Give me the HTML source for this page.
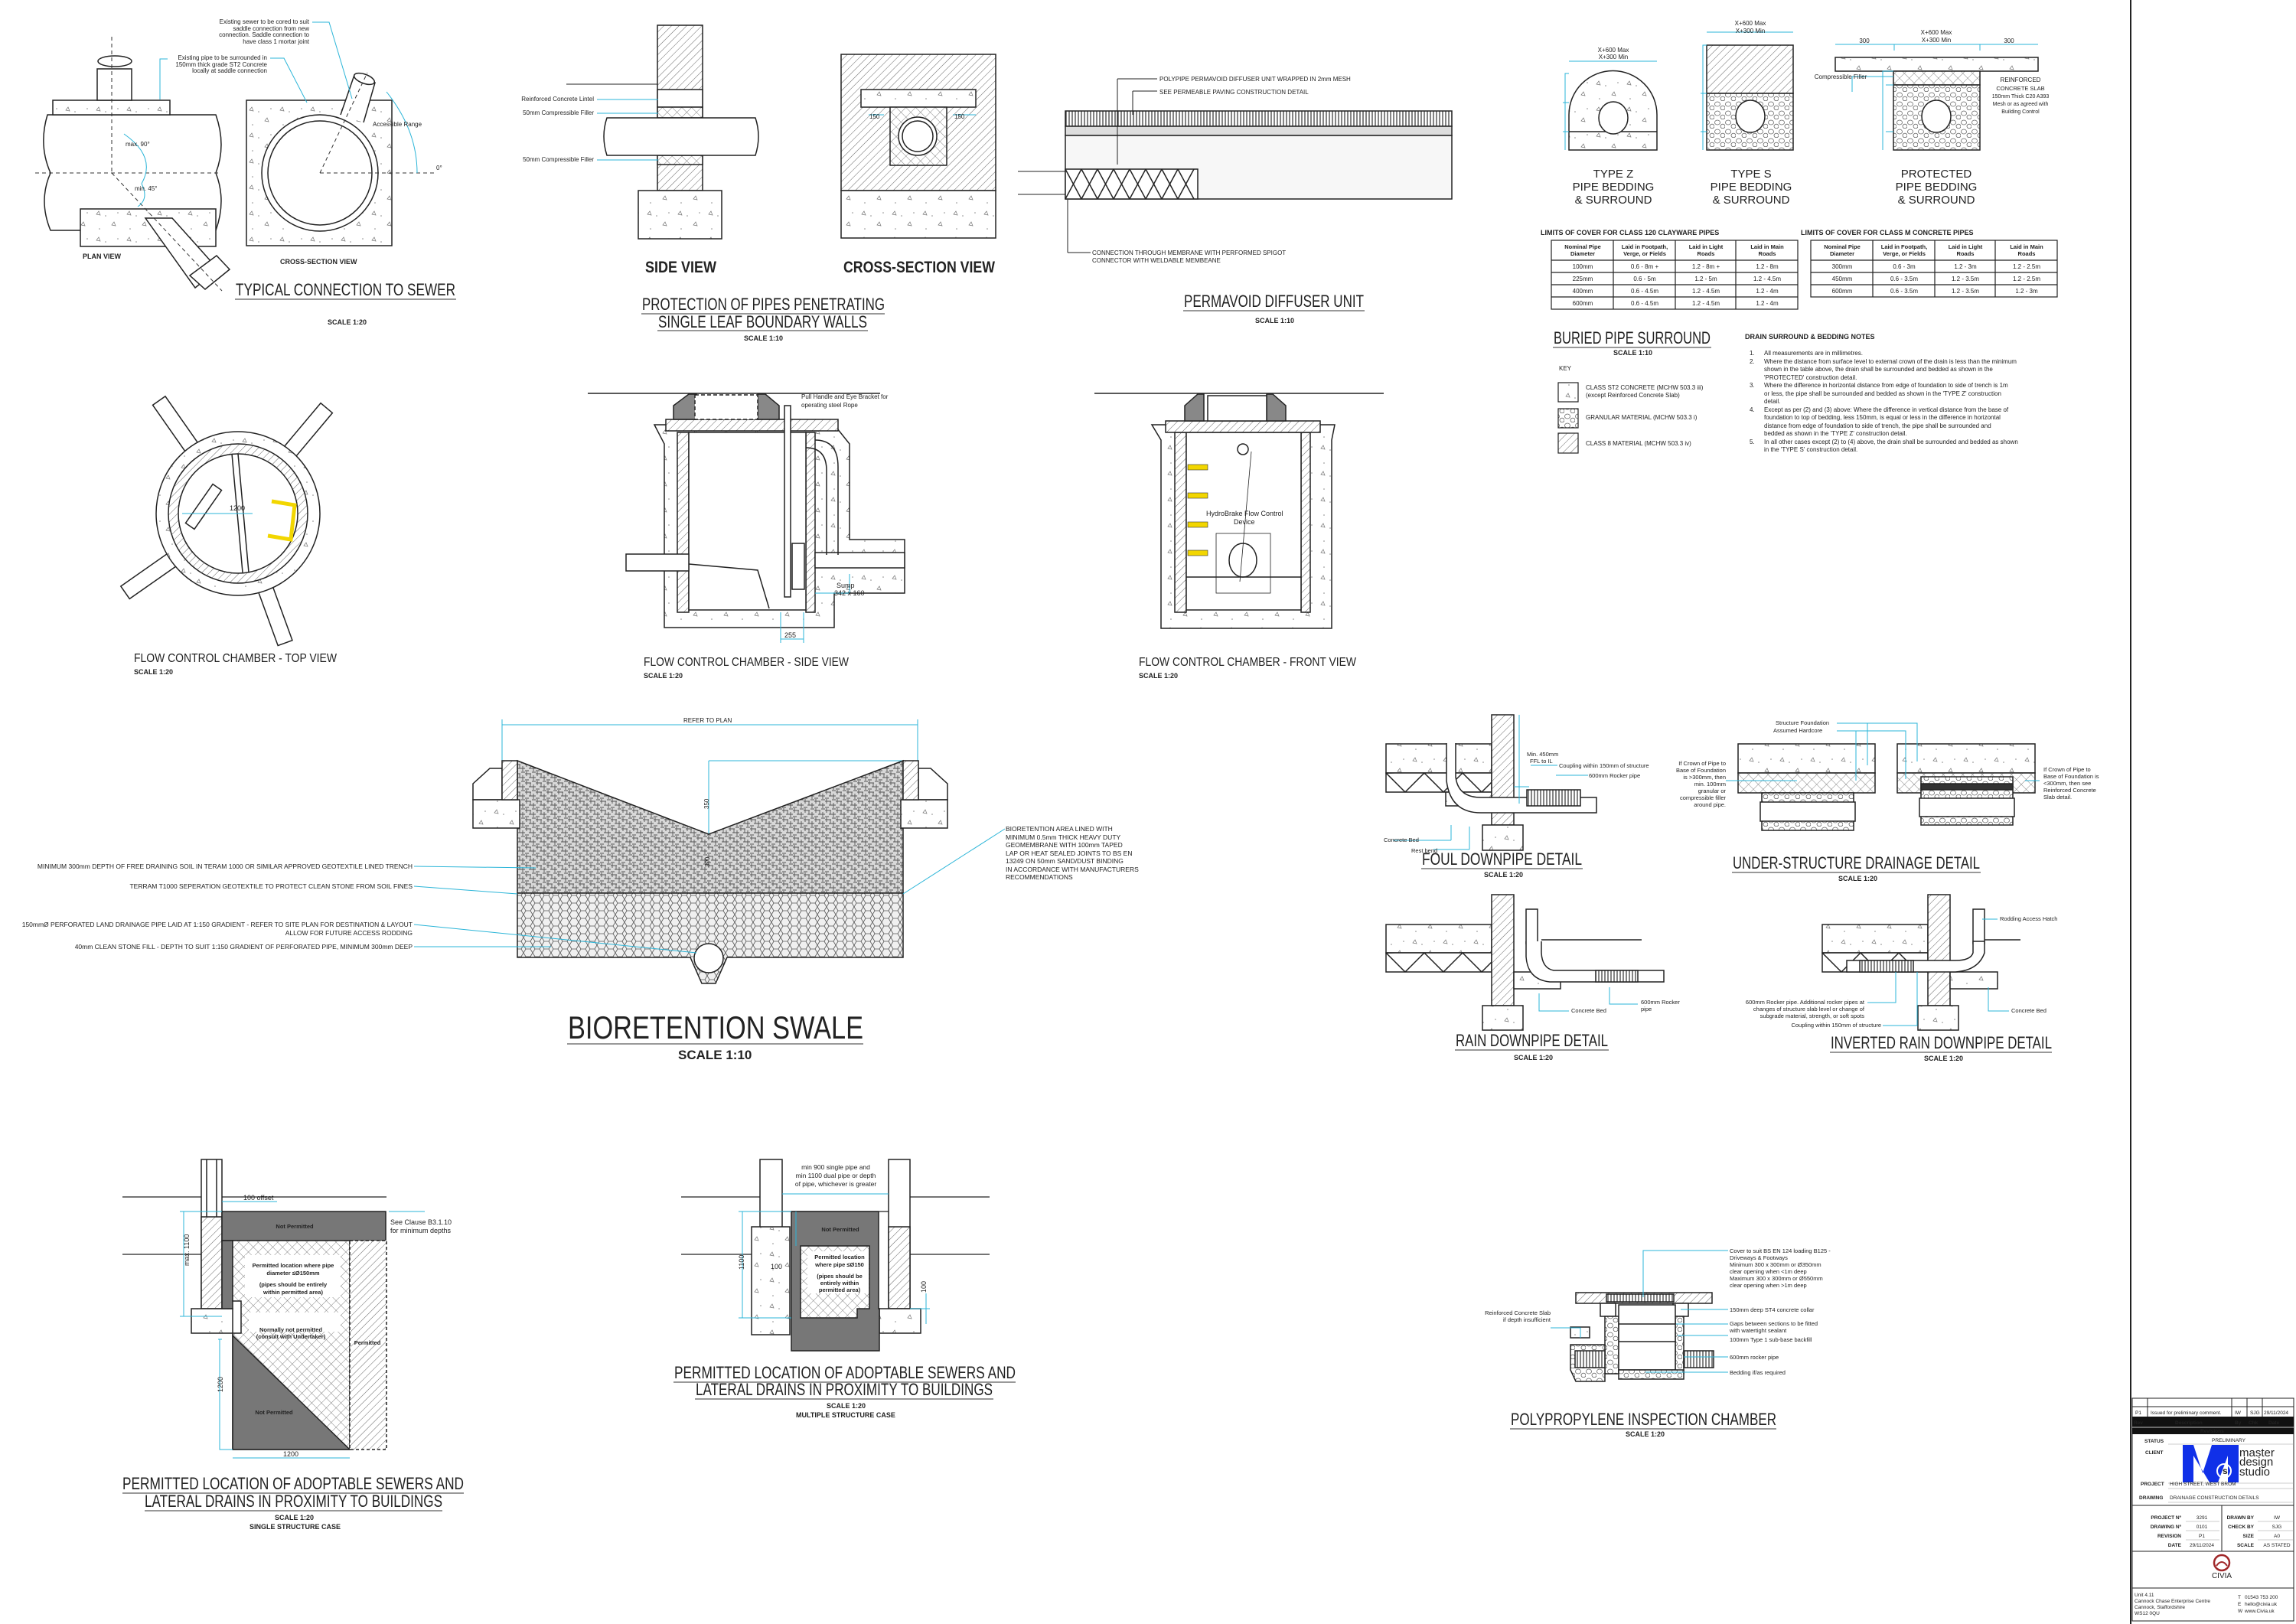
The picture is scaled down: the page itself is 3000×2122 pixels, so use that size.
<!DOCTYPE html>
<html><head><meta charset="utf-8"><style>
html,body{margin:0;padding:0;background:#fff}
svg{display:block}
text{font-family:"Liberation Sans",sans-serif;fill:#222}
.t{font-size:22px}
.s{font-size:9px;font-weight:bold}
.n{font-size:8px}
.c{stroke:#2bb5d8;fill:none;stroke-width:1}
.k{stroke:#222;fill:none;stroke-width:1.5}
</style></head><body>
<svg width="3000" height="2122" viewBox="0 0 3000 2122" xmlns="http://www.w3.org/2000/svg">
<defs>
<pattern id="dg" width="7" height="7" patternUnits="userSpaceOnUse" patternTransform="rotate(45)"><rect width="7" height="7" fill="#fff"/><line x1="0" y1="0" x2="0" y2="7" stroke="#555" stroke-width="0.9"/></pattern>
<pattern id="xh" width="9" height="9" patternUnits="userSpaceOnUse" patternTransform="rotate(45)"><rect width="9" height="9" fill="#fff"/><line x1="0" y1="0" x2="0" y2="9" stroke="#666" stroke-width="0.8"/><line x1="0" y1="0" x2="9" y2="0" stroke="#666" stroke-width="0.8"/></pattern>
<pattern id="hx" width="12" height="10" patternUnits="userSpaceOnUse"><rect width="12" height="10" fill="#f0f0f0"/><path d="M0 5 L3 0 L9 0 L12 5 L9 10 L3 10 Z" fill="none" stroke="#555" stroke-width="0.8"/></pattern>
<pattern id="cc" width="40" height="34" patternUnits="userSpaceOnUse"><rect width="40" height="34" fill="#fff"/><path d="M6 8 l3 -4 l2 5z M26 22 l3 -4 l2 5z" fill="none" stroke="#777" stroke-width="0.7"/><circle cx="18" cy="10" r="0.8" fill="#888"/><circle cx="34" cy="6" r="0.8" fill="#888"/><circle cx="10" cy="27" r="0.8" fill="#888"/></pattern>
<pattern id="soil" width="14" height="12" patternUnits="userSpaceOnUse"><rect width="14" height="12" fill="#d8d8d8"/><path d="M0 3h8M5 8h9M2 0v6M11 5v7M7 3v5M0 11h5M9 1h5" stroke="#555" stroke-width="0.9"/></pattern>
<pattern id="gr" width="14" height="12" patternUnits="userSpaceOnUse"><rect width="14" height="12" fill="#fff"/><ellipse cx="4" cy="4" rx="3.5" ry="3" fill="none" stroke="#666" stroke-width="0.8"/><ellipse cx="11" cy="9" rx="3" ry="2.8" fill="none" stroke="#666" stroke-width="0.8"/></pattern>
<pattern id="vl" width="4" height="10" patternUnits="userSpaceOnUse"><rect width="4" height="10" fill="#fff"/><line x1="1" y1="0" x2="1" y2="10" stroke="#333" stroke-width="1.2"/></pattern>
</defs>

<!-- ============ TYPICAL CONNECTION TO SEWER ============ -->
<g class="k">
<path d="M62 150 Q50 190 66 226 Q50 262 66 301 L282 301 Q296 262 282 226 Q296 190 282 150 Z" fill="#fff"/>
<rect x="69" y="131" width="153" height="19" fill="url(#cc)"/>
<rect x="127" y="90" width="45" height="41" fill="#fff"/>
<ellipse cx="150" cy="80" rx="22" ry="7" fill="#fff"/>
<rect x="105" y="273" width="177" height="49" fill="url(#cc)"/>
<path d="M190 285 L225 285 L285 352 L255 376 Z" fill="#fff"/>
<path d="M248 360 L283 334 L300 352 L268 378 Z" fill="#fff"/>
<rect x="322" y="131" width="190" height="190" fill="url(#cc)"/>
<circle cx="418" cy="226" r="76" fill="#fff"/>
<circle cx="418" cy="226" r="68"/>
<path d="M445 150 L463 98 L490 108 L475 160" fill="#fff"/>
<ellipse cx="476" cy="103" rx="14" ry="6" transform="rotate(20 476 103)" fill="#fff"/>
</g>
<g stroke="#333" stroke-dasharray="5 4" stroke-width="1" fill="none">
<line x1="46" y1="226" x2="285" y2="226"/><line x1="146" y1="48" x2="146" y2="226"/><line x1="146" y1="226" x2="290" y2="380"/>
<line x1="418" y1="226" x2="570" y2="226"/><line x1="418" y1="226" x2="480" y2="95"/>
</g>
<path class="c" d="M162 175 Q205 205 185 240 M185 240 Q195 260 180 270 M505 120 Q545 170 545 226"/>
<g class="n" text-anchor="end"><text x="404" y="31">Existing sewer to be cored to suit</text><text x="404" y="40">saddle connection from new</text><text x="404" y="48">connection. Saddle connection to</text><text x="404" y="57">have class 1 mortar joint</text>
<text x="349" y="78">Existing pipe to be surrounded in</text><text x="349" y="87">150mm thick grade ST2 Concrete</text><text x="349" y="95">locally at saddle connection</text></g>
<path class="c" d="M408 29h22l30 100 M353 76h18l30 58 M209 130v-53h10"/>
<text x="164" y="191" class="n" font-size="10">max. 90°</text><text x="176" y="249" class="n" font-size="10">min. 45°</text>
<text x="487" y="165" class="n" font-size="10">Accessible Range</text><text x="570" y="222" class="n" font-size="10">0°</text>
<text x="108" y="338" class="s">PLAN VIEW</text><text x="366" y="345" class="s">CROSS-SECTION VIEW</text>
<text x="308" y="386" class="t" textLength="287" lengthAdjust="spacingAndGlyphs">TYPICAL CONNECTION TO SEWER</text>
<line x1="307" y1="391" x2="596" y2="391" stroke="#333"/>
<text x="428" y="424" class="s">SCALE 1:20</text>

<!-- ============ PROTECTION OF PIPES ============ -->
<g class="k">
<rect x="859" y="33" width="59" height="216" fill="url(#dg)"/>
<rect x="859" y="117" width="59" height="23" fill="#fff"/>
<rect x="859" y="140" width="59" height="14" fill="url(#xh)"/>
<rect x="859" y="203" width="59" height="12" fill="url(#xh)"/>
<rect x="834" y="249" width="109" height="63" fill="url(#cc)"/>
<path d="M793 154 H987 Q995 178 987 203 H793 Q785 178 793 154Z" fill="#fff"/>
<rect x="1099" y="71" width="202" height="178" fill="url(#dg)"/>
<rect x="1099" y="249" width="202" height="62" fill="url(#cc)"/>
<rect x="1125" y="117" width="150" height="23" fill="url(#cc)"/>
<rect x="1163" y="140" width="74" height="76" fill="url(#xh)"/>
<circle cx="1199" cy="178" r="25" fill="#fff"/><circle cx="1199" cy="178" r="20"/>
</g>
<line x1="740" y1="110" x2="859" y2="110" stroke="#222"/>
<path class="c" d="M780 130H860 M780 148H860 M780 209H860 M1135 150h20 M1245 150h30"/>
<g class="n" text-anchor="end" font-size="7"><text x="776" y="132">Reinforced Concrete Lintel</text><text x="776" y="150">50mm Compressible Filler</text><text x="776" y="211">50mm Compressible Filler</text></g>
<text x="1136" y="155" class="n" font-size="9">150</text><text x="1247" y="155" class="n" font-size="9">150</text>
<text x="843" y="356" font-size="21" font-weight="bold" textLength="93" lengthAdjust="spacingAndGlyphs">SIDE VIEW</text>
<text x="1102" y="356" font-size="21" font-weight="bold" textLength="198" lengthAdjust="spacingAndGlyphs">CROSS-SECTION VIEW</text>
<text x="839" y="405" class="t" font-size="20" textLength="317" lengthAdjust="spacingAndGlyphs">PROTECTION OF PIPES PENETRATING</text>
<line x1="838" y1="410" x2="1156" y2="410" stroke="#333"/>
<text x="860" y="428" class="t" font-size="20" textLength="273" lengthAdjust="spacingAndGlyphs">SINGLE LEAF BOUNDARY WALLS</text>
<line x1="859" y1="432" x2="1134" y2="432" stroke="#333"/>
<text x="972" y="445" class="s" font-size="8">SCALE 1:10</text>

<!-- ============ PERMAVOID ============ -->
<g class="k" stroke-width="1.2">
<rect x="1392" y="145" width="505" height="20" fill="url(#vl)"/>
<rect x="1392" y="165" width="505" height="12" fill="#ddd"/>
<rect x="1392" y="177" width="505" height="83" fill="#f7f7f7"/>
<rect x="1392" y="221" width="173" height="39" fill="#fff"/>
<path d="M1392 221 l21 39 M1413 221 l-21 39 M1413 221l21 39 M1434 221l-21 39 M1434 221l21 39 M1455 221l-21 39 M1455 221l21 39 M1476 221l-21 39 M1476 221l21 39 M1497 221l-21 39 M1497 221l21 39 M1518 221l-21 39 M1518 221l21 39 M1539 221l-21 39 M1539 221l21 39 M1560 221l-21 39"/>
</g>
<path d="M1330 224H1392 M1330 254H1392 M1460 103V215 M1480 119V150 M1395 330V261" stroke="#222" fill="none"/>
<path d="M1460 103H1512 M1480 119H1512 M1395 330H1425" stroke="#222"/>
<g class="n" font-size="8"><text x="1515" y="106">POLYPIPE PERMAVOID DIFFUSER UNIT WRAPPED IN 2mm MESH</text><text x="1515" y="123">SEE PERMEABLE PAVING CONSTRUCTION DETAIL</text>
<text x="1427" y="333">CONNECTION THROUGH MEMBRANE WITH PERFORMED SPIGOT</text><text x="1427" y="343">CONNECTOR WITH WELDABLE MEMBEANE</text></g>
<text x="1547" y="401" class="t" textLength="235" lengthAdjust="spacingAndGlyphs">PERMAVOID DIFFUSER UNIT</text>
<line x1="1546" y1="406" x2="1783" y2="406" stroke="#333"/>
<text x="1640" y="422" class="s" font-size="8">SCALE 1:10</text>

<!-- ============ PIPE BEDDING ============ -->
<g class="k">
<path d="M2050 196 V150 A57 57 0 0 1 2165 150 V196 Z" fill="url(#cc)"/>
<line x1="2050" y1="172" x2="2165" y2="172"/>
<ellipse cx="2108" cy="154" rx="19" ry="21" fill="#fff"/>
<rect x="2230" y="59" width="113" height="63" fill="url(#dg)"/>
<rect x="2230" y="122" width="113" height="74" fill="url(#gr)"/>
<ellipse cx="2287" cy="152" rx="19" ry="21" fill="#fff"/>
<rect x="2398" y="75" width="265" height="18" fill="url(#cc)"/>
<rect x="2474" y="93" width="113" height="18" fill="url(#xh)"/>
<rect x="2474" y="111" width="113" height="85" fill="url(#gr)"/>
<ellipse cx="2530" cy="152" rx="19" ry="21" fill="#fff"/>
</g>
<path class="c" d="M2050 80H2165 M2230 42H2343 M2398 58H2663 M2475 58V66 M2587 58V66 M2050 96H2045V196 M2230 59H2225V196 M2474 93H2460V196 M2050 134h-8 M2050 172h-8 M2230 122h-8 M2230 172h-8 M2474 111h-10 M2474 172h-10 M2420 100H2474 M2420 100V120"/>
<g class="n" font-size="8" text-anchor="middle"><text x="2108" y="68">X+600 Max</text><text x="2108" y="77">X+300 Min</text><text x="2287" y="33">X+600 Max</text><text x="2287" y="43">X+300 Min</text><text x="2530" y="45">X+600 Max</text><text x="2530" y="55">X+300 Min</text><text x="2436" y="56">300</text><text x="2625" y="56">300</text>
<text x="2640" y="107">REINFORCED</text><text x="2640" y="118" font-size="7.5">CONCRETE SLAB</text><text x="2640" y="128" font-size="7">150mm Thick C20 A393</text><text x="2640" y="138" font-size="7">Mesh or as agreed with</text><text x="2640" y="148" font-size="7">Building Control</text><text x="2405" y="103">Compressible Filler</text></g>
<g font-size="15" text-anchor="middle"><text x="2108" y="232">TYPE Z</text><text x="2108" y="249">PIPE BEDDING</text><text x="2108" y="266">&amp; SURROUND</text>
<text x="2288" y="232">TYPE S</text><text x="2288" y="249">PIPE BEDDING</text><text x="2288" y="266">&amp; SURROUND</text>
<text x="2530" y="232">PROTECTED</text><text x="2530" y="249">PIPE BEDDING</text><text x="2530" y="266">&amp; SURROUND</text></g>

<!-- tables -->
<text x="2013" y="307" class="s" font-size="8">LIMITS OF COVER FOR CLASS 120 CLAYWARE PIPES</text>
<text x="2353" y="307" class="s" font-size="8">LIMITS OF COVER FOR CLASS M CONCRETE PIPES</text>
<g stroke="#222" fill="none" stroke-width="1.2">
<rect x="2027" y="314" width="322" height="90"/><path d="M2027 340H2349 M2027 356H2349 M2027 372H2349 M2027 388H2349 M2108 314V404 M2189 314V404 M2268 314V404"/>
<rect x="2366" y="314" width="322" height="74"/><path d="M2366 340H2688 M2366 356H2688 M2366 372H2688 M2447 314V388 M2528 314V388 M2607 314V388"/>
</g>
<g font-size="7.5" text-anchor="middle" font-weight="bold"><text x="2068" y="325">Nominal Pipe</text><text x="2068" y="334">Diameter</text><text x="2149" y="325">Laid in Footpath,</text><text x="2149" y="334">Verge, or Fields</text><text x="2229" y="325">Laid in Light</text><text x="2229" y="334">Roads</text><text x="2309" y="325">Laid in Main</text><text x="2309" y="334">Roads</text>
<text x="2407" y="325">Nominal Pipe</text><text x="2407" y="334">Diameter</text><text x="2488" y="325">Laid in Footpath,</text><text x="2488" y="334">Verge, or Fields</text><text x="2568" y="325">Laid in Light</text><text x="2568" y="334">Roads</text><text x="2648" y="325">Laid in Main</text><text x="2648" y="334">Roads</text></g>
<g font-size="8" text-anchor="middle">
<text x="2068" y="351">100mm</text><text x="2149" y="351">0.6 - 8m +</text><text x="2229" y="351">1.2 - 8m +</text><text x="2309" y="351">1.2 - 8m</text>
<text x="2068" y="367">225mm</text><text x="2149" y="367">0.6 - 5m</text><text x="2229" y="367">1.2 - 5m</text><text x="2309" y="367">1.2 - 4.5m</text>
<text x="2068" y="383">400mm</text><text x="2149" y="383">0.6 - 4.5m</text><text x="2229" y="383">1.2 - 4.5m</text><text x="2309" y="383">1.2 - 4m</text>
<text x="2068" y="399">600mm</text><text x="2149" y="399">0.6 - 4.5m</text><text x="2229" y="399">1.2 - 4.5m</text><text x="2309" y="399">1.2 - 4m</text>
<text x="2407" y="351">300mm</text><text x="2488" y="351">0.6 - 3m</text><text x="2568" y="351">1.2 - 3m</text><text x="2648" y="351">1.2 - 2.5m</text>
<text x="2407" y="367">450mm</text><text x="2488" y="367">0.6 - 3.5m</text><text x="2568" y="367">1.2 - 3.5m</text><text x="2648" y="367">1.2 - 2.5m</text>
<text x="2407" y="383">600mm</text><text x="2488" y="383">0.6 - 3.5m</text><text x="2568" y="383">1.2 - 3.5m</text><text x="2648" y="383">1.2 - 3m</text></g>

<text x="2030" y="449" class="t" font-size="20" textLength="205" lengthAdjust="spacingAndGlyphs">BURIED PIPE SURROUND</text>
<line x1="2029" y1="454" x2="2236" y2="454" stroke="#333"/>
<text x="2108" y="464" class="s" font-size="8">SCALE 1:10</text>
<text x="2037" y="484" font-size="8">KEY</text>
<g stroke="#222" stroke-width="1.2"><rect x="2036" y="500" width="26" height="25" fill="url(#cc)"/><rect x="2036" y="534" width="26" height="25" fill="url(#gr)"/><rect x="2036" y="566" width="26" height="26" fill="url(#dg)"/></g>
<g font-size="8"><text x="2072" y="509">CLASS ST2 CONCRETE (MCHW 503.3 iii)</text><text x="2072" y="519">(except Reinforced Concrete Slab)</text><text x="2072" y="548">GRANULAR MATERIAL (MCHW 503.3 i)</text><text x="2072" y="582">CLASS 8 MATERIAL (MCHW 503.3 iv)</text></g>
<text x="2280" y="443" class="s" font-size="8">DRAIN SURROUND &amp; BEDDING NOTES</text>
<g font-size="8"><text x="2286" y="464">1.</text><text x="2305" y="464">All measurements are in millimetres.</text>
<text x="2286" y="475">2.</text><text x="2305" y="475">Where the distance from surface level to external crown of the drain is less than the minimum</text><text x="2305" y="485">shown in the table above, the drain shall be surrounded and bedded as shown in the</text><text x="2305" y="496">'PROTECTED' construction detail.</text>
<text x="2286" y="506">3.</text><text x="2305" y="506">Where the difference in horizontal distance from edge of foundation to side of trench is 1m</text><text x="2305" y="517">or less, the pipe shall be surrounded and bedded as shown in the 'TYPE Z' construction</text><text x="2305" y="527">detail.</text>
<text x="2286" y="538">4.</text><text x="2305" y="538">Except as per (2) and (3) above: Where the difference in vertical distance from the base of</text><text x="2305" y="548">foundation to top of bedding, less 150mm, is equal or less in the difference in horizontal</text><text x="2305" y="559">distance from edge of foundation to side of trench, the pipe shall be surrounded and</text><text x="2305" y="569">bedded as shown in the 'TYPE Z' construction detail.</text>
<text x="2286" y="580">5.</text><text x="2305" y="580">In all other cases except (2) to (4) above, the drain shall be surrounded and bedded as shown</text><text x="2305" y="590">in the 'TYPE S' construction detail.</text></g>

<!-- ============ FLOW CONTROL TOP VIEW ============ -->
<g class="k">
<g transform="translate(311 671)">
<g fill="#fff"><rect x="-10" y="-180" width="20" height="120" transform="rotate(-35)"/><rect x="-10" y="-180" width="20" height="120" transform="rotate(40)"/><rect x="-10" y="-180" width="20" height="120" transform="rotate(-125)"/><rect x="-10" y="-180" width="20" height="120" transform="rotate(160)"/></g>
<circle r="107" fill="url(#cc)"/><circle r="91" fill="url(#dg)"/><circle r="78" fill="#fff"/>
<path d="M0 -78 L14 77 M-8 -78 L6 77" />
<rect x="-52" y="-40" width="14" height="62" transform="rotate(35 -45 -9)" fill="#fff"/>
</g>
<path d="M355 655 L385 660 L380 705 L350 700" stroke="#f2d600" stroke-width="5" fill="none"/>
</g>
<line x1="238" y1="671" x2="330" y2="671" class="c"/><text x="300" y="667" font-size="9" fill="#2bb5d8">1200</text>
<text x="175" y="865" font-size="16" textLength="265" lengthAdjust="spacingAndGlyphs">FLOW CONTROL CHAMBER - TOP VIEW</text>
<text x="175" y="881" class="s">SCALE 1:20</text>

<!-- ============ FLOW CONTROL SIDE VIEW ============ -->
<line x1="768" y1="514" x2="1150" y2="514" stroke="#222" stroke-width="1.5"/>
<g class="k">
<path d="M855 555 H1090 L1110 580 V705 H1182 V775 H1090 V820 H868 V580 Z" fill="url(#cc)"/>
<rect x="885" y="565" width="15" height="235" fill="url(#dg)"/><rect x="1053" y="565" width="12" height="235" fill="url(#dg)"/>
<rect x="900" y="565" width="153" height="232" fill="#fff"/>
<rect x="870" y="548" width="225" height="15" fill="url(#dg)"/>
<path d="M880 530 L900 515 H910 V548 H880Z M990 515 H1000 L1018 530 V548 H990Z" fill="#888"/>
<rect x="908" y="516" width="82" height="32" fill="#fff" stroke-dasharray="5 3"/>
<rect x="818" y="724" width="82" height="22" fill="#fff"/><rect x="1065" y="722" width="117" height="20" fill="#fff"/>
<path d="M1065 575 Q1095 575 1095 610 V725" /><path d="M1053 585 Q1080 585 1080 615 V725"/>
<rect x="1025" y="530" width="8" height="250" fill="#fff"/>
<rect x="1035" y="710" width="16" height="60" fill="#fff"/>
<path d="M900 737 L990 745 L1005 795" fill="none"/>
</g>
<path class="c" d="M1020 800V840 M1050 800V840 M1020 835h30 M1110 750 V775 M1065 775h45"/>
<text x="1093" y="768" font-size="9" fill="#2bb5d8">Sump</text><text x="1090" y="778" font-size="9" fill="#2bb5d8">342 x 160</text><text x="1025" y="833" font-size="9" fill="#2bb5d8">255</text>
<text x="1047" y="521" font-size="8">Pull Handle and Eye Bracket for</text><text x="1047" y="532" font-size="8">operating steel Rope</text>
<text x="841" y="870" font-size="16" textLength="268" lengthAdjust="spacingAndGlyphs">FLOW CONTROL CHAMBER - SIDE VIEW</text>
<text x="841" y="886" class="s">SCALE 1:20</text>

<!-- ============ FLOW CONTROL FRONT VIEW ============ -->
<line x1="1430" y1="514" x2="1808" y2="514" stroke="#222" stroke-width="1.5"/>
<g class="k">
<path d="M1505 555 H1744 L1740 575 V821 H1517 V575 Z" fill="url(#cc)"/>
<rect x="1535" y="565" width="15" height="235" fill="url(#dg)"/><rect x="1700" y="565" width="12" height="235" fill="url(#dg)"/>
<rect x="1550" y="565" width="150" height="232" fill="#fff"/>
<rect x="1523" y="550" width="202" height="15" fill="url(#dg)"/>
<path d="M1548 530 L1565 515 H1573 V550 H1548Z M1655 515 H1663 L1680 530 V550 H1655Z" fill="#888"/>
<rect x="1578" y="517" width="77" height="33" fill="#fff"/>
<circle cx="1624" cy="587" r="7"/>
<rect x="1589" y="697" width="71" height="78" fill="#fff" stroke-width="0.8"/>
<ellipse cx="1624" cy="732" rx="18" ry="22"/>
<line x1="1550" y1="754" x2="1700" y2="754"/>
<path d="M1635 590 L1620 760" stroke-width="0.8"/>
</g>
<g fill="#f2d600" stroke="#333" stroke-width="0.6"><rect x="1552" y="607" width="26" height="7"/><rect x="1552" y="644" width="26" height="7"/><rect x="1552" y="682" width="26" height="7"/><rect x="1552" y="719" width="26" height="7"/></g>
<text x="1576" y="674" font-size="9">HydroBrake Flow Control</text><text x="1612" y="685" font-size="9">Device</text>
<text x="1488" y="870" font-size="16" textLength="284" lengthAdjust="spacingAndGlyphs">FLOW CONTROL CHAMBER - FRONT VIEW</text>
<text x="1488" y="886" class="s">SCALE 1:20</text>

<!-- ============ BIORETENTION SWALE ============ -->
<path class="c" d="M656 947H1199 M656 940V1000 M1199 940V1000 M926 994H1199 M926 994V1167"/>
<text x="893" y="944" font-size="8">REFER TO PLAN</text>
<g class="k">
<path d="M676 994 L926 1090 L1180 994 V1167 H676 Z" fill="url(#soil)"/>
<path d="M676 1167 H1180 V1251 H950 L935 1285 H917 L902 1251 H676 Z" fill="url(#hx)"/>
<circle cx="926" cy="1252" r="19" fill="#fff"/>
<path d="M618 1024 L640 1004 H656 V1045 H618 Z" fill="#fff"/><rect x="618" y="1045" width="61" height="37" fill="url(#cc)"/><rect x="656" y="994" width="20" height="51" fill="url(#dg)"/>
<path d="M1238 1024 L1216 1004 H1200 V1045 H1238 Z" fill="#fff"/><rect x="1177" y="1045" width="61" height="37" fill="url(#cc)"/><rect x="1180" y="994" width="20" height="51" fill="url(#dg)"/>
</g>
<text x="918" y="1055" font-size="8" transform="rotate(-90 923 1052)">350</text>
<text x="918" y="1132" font-size="8" transform="rotate(-90 923 1128)">300</text>
<path class="c" d="M541 1132L700 1134 M541 1158L676 1168 M541 1208L910 1245 M541 1237L720 1237 M1313 1083L1180 1168"/>
<g font-size="8.5" text-anchor="end"><text x="539" y="1135">MINIMUM 300mm DEPTH OF FREE DRAINING SOIL IN TERAM 1000 OR SIMILAR APPROVED GEOTEXTILE LINED TRENCH</text>
<text x="539" y="1161">TERRAM T1000 SEPERATION GEOTEXTILE TO PROTECT CLEAN STONE FROM SOIL FINES</text>
<text x="539" y="1211">150mmØ PERFORATED LAND DRAINAGE PIPE LAID AT 1:150 GRADIENT - REFER TO SITE PLAN FOR DESTINATION &amp; LAYOUT</text>
<text x="539" y="1222">ALLOW FOR FUTURE ACCESS RODDING</text>
<text x="539" y="1240">40mm CLEAN STONE FILL - DEPTH TO SUIT 1:150 GRADIENT OF PERFORATED PIPE, MINIMUM 300mm DEEP</text></g>
<g font-size="8.5"><text x="1314" y="1086">BIORETENTION AREA LINED WITH</text><text x="1314" y="1097">MINIMUM 0.5mm THICK HEAVY DUTY</text><text x="1314" y="1107">GEOMEMBRANE WITH 100mm TAPED</text><text x="1314" y="1118">LAP OR HEAT SEALED JOINTS TO BS EN</text><text x="1314" y="1128">13249 ON 50mm SAND/DUST BINDING</text><text x="1314" y="1139">IN ACCORDANCE WITH MANUFACTURERS</text><text x="1314" y="1149">RECOMMENDATIONS</text></g>
<text x="742" y="1357" font-size="42" textLength="386" lengthAdjust="spacingAndGlyphs">BIORETENTION SWALE</text>
<line x1="741" y1="1364" x2="1128" y2="1364" stroke="#333"/>
<text x="886" y="1384" font-size="17" font-weight="bold">SCALE 1:10</text>

<!-- ============ PERMITTED SINGLE ============ -->
<g stroke="#222" fill="none" stroke-width="1.2"><path d="M160 1564H263 M160 1639H263 M290 1564H505"/></g>
<g class="k">
<rect x="263" y="1515" width="27" height="195" fill="#fff"/><rect x="263" y="1590" width="27" height="120" fill="url(#dg)"/>
<path d="M270 1515V1590 M283 1515V1590"/>
<rect x="250" y="1710" width="54" height="32" fill="url(#cc)"/>
<rect x="290" y="1583" width="214" height="38" fill="#777"/>
<rect x="290" y="1621" width="14" height="89" fill="#777"/>
<path d="M304 1621 H457 V1894 H304 V1742 L315 1742 V1700 L304 1700Z" fill="url(#xh)"/>
<rect x="457" y="1621" width="48" height="273" fill="url(#dg)" stroke-dasharray="4 3"/>
<path d="M304 1745 L457 1894 H304 Z" fill="#777"/>
</g>
<rect x="320" y="1640" width="125" height="55" fill="#fff"/><rect x="325" y="1715" width="120" height="25" fill="#fff"/>
<g font-size="7.5" font-weight="bold" text-anchor="middle"><text x="385" y="1605" fill="#fff">Not Permitted</text><text x="383" y="1656">Permitted location where pipe</text><text x="383" y="1666">diameter ≤Ø150mm</text><text x="383" y="1681">(pipes should be entirely</text><text x="383" y="1691">within permitted area)</text><text x="380" y="1740">Normally not permitted</text><text x="380" y="1749">(consult with Undertaker)</text><text x="480" y="1757">Permitted</text><text x="358" y="1848" fill="#222">Not Permitted</text></g>
<path class="c" d="M235 1583H290 M235 1720H290 M240 1583V1720 M290 1570H362 M285 1750H290 M287 1750V1894H304 M304 1905H457 M508 1583H555"/>
<text x="233" y="1660" font-size="9" transform="rotate(-90 237 1650)">max. 1100</text>
<text x="282" y="1820" font-size="9" transform="rotate(-90 286 1815)">1200</text>
<text x="370" y="1903" font-size="9">1200</text>
<text x="318" y="1568" font-size="9">100 offset</text>
<text x="510" y="1600" font-size="9">See Clause B3.1.10</text><text x="510" y="1611" font-size="9">for minimum depths</text>
<text x="160" y="1946" class="t" font-size="18" textLength="446" lengthAdjust="spacingAndGlyphs">PERMITTED LOCATION OF ADOPTABLE SEWERS AND</text>
<line x1="160" y1="1951" x2="606" y2="1951" stroke="#333"/>
<text x="189" y="1969" class="t" font-size="18" textLength="389" lengthAdjust="spacingAndGlyphs">LATERAL DRAINS IN PROXIMITY TO BUILDINGS</text>
<line x1="189" y1="1974" x2="578" y2="1974" stroke="#333"/>
<text x="359" y="1986" class="s" font-size="8">SCALE 1:20</text><text x="326" y="1998" class="s" font-size="8">SINGLE STRUCTURE CASE</text>

<!-- ============ PERMITTED MULTIPLE ============ -->
<g stroke="#222" fill="none" stroke-width="1.2"><path d="M890 1564H993 M890 1639H993 M1189 1564H1293 M1189 1639H1293 M1022 1583H1161"/></g>
<g class="k">
<rect x="993" y="1515" width="29" height="195" fill="#fff"/><rect x="1161" y="1515" width="28" height="195" fill="#fff"/>
<rect x="1161" y="1603" width="28" height="107" fill="url(#dg)"/>
<rect x="982" y="1603" width="50" height="141" fill="url(#cc)"/>
<rect x="1149" y="1710" width="54" height="32" fill="url(#cc)"/>
<path d="M1034 1583 H1148 V1710 H1149 V1765 H1034Z" fill="#777"/>
<path d="M1046 1628 H1136 V1710 H1120 V1722 H1046Z" fill="url(#xh)"/>
</g>
<rect x="1055" y="1635" width="80" height="55" fill="#fff"/>
<g font-size="7.5" font-weight="bold" text-anchor="middle"><text x="1098" y="1609" fill="#fff">Not Permitted</text><text x="1097" y="1645">Permitted location</text><text x="1097" y="1655">where pipe ≤Ø150</text><text x="1097" y="1670">(pipes should be</text><text x="1097" y="1679">entirely within</text><text x="1097" y="1688">permitted area)</text></g>
<path class="c" d="M1022 1560H1161 M965 1583H1034 M965 1722H1034 M970 1583V1722 M1040 1583V1628 M1189 1710H1215 M1210 1690V1730"/>
<text x="1092" y="1528" font-size="8.5" text-anchor="middle">min 900 single pipe and</text><text x="1092" y="1539" font-size="8.5" text-anchor="middle">min 1100 dual pipe or depth</text><text x="1092" y="1550" font-size="8.5" text-anchor="middle">of pipe, whichever is greater</text>
<text x="958" y="1665" font-size="9" transform="rotate(-90 962 1655)">1100</text><text x="1007" y="1658" font-size="9">100</text>
<text x="1203" y="1688" font-size="9" transform="rotate(-90 1207 1685)">100</text>
<text x="881" y="1801" class="t" font-size="18" textLength="446" lengthAdjust="spacingAndGlyphs">PERMITTED LOCATION OF ADOPTABLE SEWERS AND</text>
<line x1="880" y1="1806" x2="1327" y2="1806" stroke="#333"/>
<text x="909" y="1823" class="t" font-size="18" textLength="388" lengthAdjust="spacingAndGlyphs">LATERAL DRAINS IN PROXIMITY TO BUILDINGS</text>
<line x1="908" y1="1828" x2="1298" y2="1828" stroke="#333"/>
<text x="1080" y="1840" class="s" font-size="8">SCALE 1:20</text><text x="1040" y="1852" class="s" font-size="8">MULTIPLE STRUCTURE CASE</text>

<!-- ============ FOUL DOWNPIPE ============ -->
<g class="k">
<rect x="1811" y="972" width="138" height="38" fill="url(#cc)"/>
<path d="M1811 1010H1949V1035H1811Z M1811 1010l25 25l25-25l25 25l25-25l25 25l13-13" fill="#fff"/>
<rect x="1889" y="1035" width="60" height="18" fill="url(#cc)"/>
<rect x="1949" y="934" width="29" height="144" fill="url(#dg)"/>
<rect x="1937" y="1078" width="53" height="33" fill="url(#cc)"/>
<path d="M1902 971 V1015 Q1905 1042 1935 1042 H2086 V1062 H1935 Q1895 1062 1890 1020 V971" fill="#fff"/>
<rect x="1995" y="1032" width="70" height="21" fill="url(#vl)"/>
</g>
<path class="c" d="M1985 934V1050 M1978 1028h20 M2000 1000H2035 M2033 1013H2075 M1896 1098V1078 M1820 1098h76 M1920 1110V1080 M1873 1110h47"/>
<g font-size="7.5"><text x="1995" y="988">Min. 450mm</text><text x="1999" y="997">FFL to IL</text><text x="2037" y="1003">Coupling within 150mm of structure</text><text x="2076" y="1016">600mm Rocker pipe</text><text x="1808" y="1100">Concrete Bed</text><text x="1844" y="1114">Rest bend</text></g>
<text x="1858" y="1130" class="t" font-size="19" textLength="209" lengthAdjust="spacingAndGlyphs">FOUL DOWNPIPE DETAIL</text>
<line x1="1857" y1="1135" x2="2068" y2="1135" stroke="#333"/><text x="1939" y="1146" class="s" font-size="8">SCALE 1:20</text>

<!-- ============ UNDER-STRUCTURE ============ -->
<g class="k">
<rect x="2271" y="972" width="179" height="38" fill="url(#cc)"/><rect x="2271" y="1010" width="179" height="26" fill="url(#xh)"/>
<rect x="2302" y="1036" width="120" height="49" fill="url(#gr)"/><rect x="2300" y="1048" width="124" height="25" fill="#fff"/>
<rect x="2479" y="972" width="180" height="38" fill="url(#cc)"/><rect x="2479" y="1010" width="180" height="26" fill="url(#xh)"/>
<rect x="2510" y="1015" width="120" height="63" fill="url(#gr)"/><rect x="2510" y="1024" width="120" height="8" fill="#333"/><rect x="2508" y="1043" width="124" height="24" fill="#fff"/>
</g>
<path class="c" d="M2400 945H2440V1000 M2400 955H2425V1020 M2407 945H2505V995 M2410 955H2490V1018 M2348 1020H2255 M2646 1020H2665"/>
<g font-size="7.5"><text x="2320" y="947">Structure Foundation</text><text x="2317" y="957">Assumed Hardcore</text>
<g text-anchor="end"><text x="2255" y="1000">If Crown of Pipe to</text><text x="2255" y="1009">Base of Foundation</text><text x="2255" y="1018">is &gt;300mm, then</text><text x="2255" y="1027">min. 100mm</text><text x="2255" y="1036">granular or</text><text x="2255" y="1045">compressible filler</text><text x="2255" y="1054">around pipe.</text></g>
<text x="2670" y="1008">If Crown of Pipe to</text><text x="2670" y="1017">Base of Foundation is</text><text x="2670" y="1026">&lt;300mm, then see</text><text x="2670" y="1035">Reinforced Concrete</text><text x="2670" y="1044">Slab detail.</text></g>
<text x="2264" y="1135" class="t" font-size="19" textLength="323" lengthAdjust="spacingAndGlyphs">UNDER-STRUCTURE DRAINAGE DETAIL</text>
<line x1="2263" y1="1140" x2="2588" y2="1140" stroke="#333"/><text x="2402" y="1151" class="s" font-size="8">SCALE 1:20</text>

<!-- ============ RAIN DOWNPIPE ============ -->
<g class="k">
<rect x="1811" y="1208" width="138" height="37" fill="url(#cc)"/>
<path d="M1811 1245H1949V1270H1811Z M1811 1245l25 25l25-25l25 25l25-25l25 25l13-13" fill="#fff"/>
<rect x="1949" y="1169" width="29" height="145" fill="url(#dg)"/>
<rect x="1937" y="1314" width="53" height="32" fill="url(#cc)"/>
<rect x="1978" y="1270" width="61" height="22" fill="url(#cc)"/>
<rect x="1994" y="1188" width="15" height="45" fill="#fff"/>
<path d="M1994 1230 V1250 Q1996 1280 2025 1283 H2174 V1268 H2030 Q2015 1265 2014 1245 V1230" fill="#fff"/>
<rect x="2085" y="1268" width="55" height="15" fill="url(#vl)"/>
<line x1="2014" y1="1228" x2="2145" y2="1228"/>
</g>
<path class="c" d="M2011 1298V1321H2050 M2103 1290V1312H2140"/>
<g font-size="7.5"><text x="2053" y="1323">Concrete Bed</text><text x="2144" y="1312">600mm Rocker</text><text x="2144" y="1321">pipe</text></g>
<text x="1902" y="1367" class="t" font-size="19" textLength="199" lengthAdjust="spacingAndGlyphs">RAIN DOWNPIPE DETAIL</text>
<line x1="1901" y1="1372" x2="2102" y2="1372" stroke="#333"/><text x="1978" y="1385" class="s" font-size="8">SCALE 1:20</text>

<!-- ============ INVERTED RAIN ============ -->
<g class="k">
<rect x="2381" y="1208" width="138" height="37" fill="url(#cc)"/>
<path d="M2381 1245H2519V1270H2381Z M2381 1245l25 25l25-25l25 25l25-25l25 25l13-13" fill="#fff"/>
<rect x="2519" y="1169" width="29" height="145" fill="url(#dg)"/>
<rect x="2506" y="1314" width="53" height="32" fill="url(#cc)"/>
<rect x="2548" y="1270" width="62" height="22" fill="url(#cc)"/>
<rect x="2578" y="1188" width="15" height="45" fill="#fff"/>
<path d="M2413 1270 H2555 Q2585 1268 2593 1245 V1230 H2578 V1245 Q2575 1255 2555 1255 H2413Z" fill="#fff"/>
<rect x="2430" y="1255" width="70" height="15" fill="url(#vl)"/>
<line x1="2593" y1="1228" x2="2640" y2="1228"/>
</g>
<path class="c" d="M2590 1201H2610 M2598 1290V1321H2625 M2477 1270V1310H2440 M2505 1270V1340H2460"/>
<g font-size="7.5"><text x="2613" y="1203">Rodding Access Hatch</text><text x="2628" y="1323">Concrete Bed</text>
<g text-anchor="end"><text x="2436" y="1312">600mm Rocker pipe. Additional rocker pipes at</text><text x="2436" y="1321">changes of structure slab level or change of</text><text x="2436" y="1330">subgrade material, strength, or soft spots</text><text x="2458" y="1342">Coupling within 150mm of structure</text></g></g>
<text x="2392" y="1370" class="t" font-size="19" textLength="289" lengthAdjust="spacingAndGlyphs">INVERTED RAIN DOWNPIPE DETAIL</text>
<line x1="2391" y1="1375" x2="2681" y2="1375" stroke="#333"/><text x="2514" y="1386" class="s" font-size="8">SCALE 1:20</text>

<!-- ============ POLYPROPYLENE ============ -->
<g class="k">
<rect x="2059" y="1689" width="178" height="14" fill="url(#dg)"/>
<rect x="2099" y="1691" width="88" height="10" fill="url(#vl)"/>
<rect x="2091" y="1703" width="20" height="17" fill="#fff"/><rect x="2186" y="1703" width="20" height="17" fill="#fff"/>
<path d="M2097 1720 H2115 V1795 H2097Z M2189 1720 H2200 V1795 H2189Z" fill="url(#gr)"/>
<rect x="2115" y="1705" width="74" height="85" fill="#fff"/>
<path d="M2115 1730H2189 M2115 1753H2189"/>
<path d="M2052 1757 H2097 V1805 H2059 L2052 1790Z" fill="url(#gr)"/>
<rect x="2058" y="1765" width="39" height="22" fill="url(#vl)"/><rect x="2200" y="1765" width="39" height="22" fill="url(#vl)"/>
<rect x="2115" y="1790" width="85" height="12" fill="url(#gr)"/>
<rect x="2052" y="1734" width="25" height="14" fill="url(#cc)"/>
</g>
<path class="c" d="M2147 1695V1634H2258 M2196 1711H2258 M2190 1730H2258 M2192 1745H2258 M2200 1773H2258 M2150 1793H2258 M2026 1735H2065V1748"/>
<g font-size="7.5"><text x="2260" y="1637">Cover to suit BS EN 124 loading B125 -</text><text x="2260" y="1646">Driveways &amp; Footways</text><text x="2260" y="1655">Minimum 300 x 300mm or Ø350mm</text><text x="2260" y="1664">clear opening when &lt;1m deep</text><text x="2260" y="1673">Maximum 300 x 300mm or Ø550mm</text><text x="2260" y="1682">clear opening when &gt;1m deep</text>
<text x="2260" y="1714">150mm deep ST4 concrete collar</text><text x="2260" y="1732">Gaps between sections to be fitted</text><text x="2260" y="1741">with watertight sealant</text><text x="2260" y="1753">100mm Type 1 sub-base backfill</text><text x="2260" y="1776">600mm rocker pipe</text><text x="2260" y="1796">Bedding if/as required</text>
<g text-anchor="end"><text x="2026" y="1718">Reinforced Concrete Slab</text><text x="2026" y="1727">if depth insufficient</text></g></g>
<text x="1974" y="1862" class="t" font-size="19" textLength="347" lengthAdjust="spacingAndGlyphs">POLYPROPYLENE INSPECTION CHAMBER</text>
<line x1="1973" y1="1867" x2="2321" y2="1867" stroke="#333"/><text x="2124" y="1877" class="s" font-size="8">SCALE 1:20</text>

<!-- ============ TITLE BLOCK ============ -->
<line x1="2784" y1="0" x2="2784" y2="2122" stroke="#222" stroke-width="2"/>
<g stroke="#222" stroke-width="1" fill="none">
<rect x="2786" y="1827" width="211" height="291"/>
<path d="M2786 1838H2997 M2806 1827V1865 M2916 1827V1865 M2936 1827V1865 M2956 1827V1865"/>
</g>
<rect x="2786" y="1851" width="211" height="23" fill="#111"/>
<line x1="2786" y1="1865" x2="2997" y2="1865" stroke="#fff" stroke-width="0.8"/>
<g font-size="6.5"><text x="2790" y="1848">P1</text><text x="2810" y="1848">Issued for preliminary comment.</text><text x="2920" y="1848">IW</text><text x="2940" y="1848">SJG</text><text x="2958" y="1848">29/11/2024</text></g>
<g font-size="6.5" font-weight="bold"><text x="2788" y="1861" fill="#fff">Rev</text><text x="2842" y="1861" fill="#fff">Description</text><text x="2920" y="1861" fill="#fff">By</text><text x="2938" y="1861" fill="#fff">Chk</text><text x="2964" y="1861" fill="#fff">Date</text><text x="2875" y="1872" fill="#fff">Revisions</text></g>
<g font-size="6.5" font-weight="bold"><text x="2802" y="1885">STATUS</text><text x="2803" y="1900">CLIENT</text><text x="2797" y="1941">PROJECT</text><text x="2795" y="1959">DRAWING</text></g>
<text x="2890" y="1884" font-size="6.5">PRELIMINARY</text>
<g stroke="#999" stroke-width="0.6"><path d="M2833 1887H2997 M2833 1938H2997 M2833 1945H2997 M2833 1963H2997"/></g>
<g fill="#1030e8"><path d="M2852 1937 V1888 H2866 L2878 1925 L2890 1888 H2925 V1937 H2911 V1902 L2898 1937 H2887 L2866 1902 V1937 Z"/></g>
<circle cx="2906" cy="1922" r="9" fill="none" stroke="#fff" stroke-width="2"/>
<text x="2904" y="1926" font-size="12" font-weight="bold" fill="#fff">s</text>
<g font-size="15" fill="#111"><text x="2926" y="1903">master</text><text x="2926" y="1915">design</text><text x="2926" y="1928">studio</text></g>
<g font-size="6.5"><text x="2835" y="1941">HIGH STREET, WEST BROM</text><text x="2835" y="1959">DRAINAGE CONSTRUCTION DETAILS</text></g>
<line x1="2786" y1="1967" x2="2997" y2="1967" stroke="#222"/>
<line x1="2903" y1="1967" x2="2903" y2="2027" stroke="#222"/>
<g font-size="6.5" font-weight="bold" text-anchor="end"><text x="2850" y="1985">PROJECT Nº</text><text x="2850" y="1997">DRAWING Nº</text><text x="2850" y="2009">REVISION</text><text x="2850" y="2021">DATE</text><text x="2945" y="1985">DRAWN BY</text><text x="2945" y="1997">CHECK BY</text><text x="2945" y="2009">SIZE</text><text x="2945" y="2021">SCALE</text></g>
<g font-size="6.5" text-anchor="middle"><text x="2877" y="1985">3291</text><text x="2877" y="1997">0101</text><text x="2877" y="2009">P1</text><text x="2877" y="2021">29/11/2024</text><text x="2975" y="1985">IW</text><text x="2975" y="1997">SJG</text><text x="2975" y="2009">A0</text><text x="2975" y="2021">AS STATED</text></g>
<g stroke="#999" stroke-width="0.6"><path d="M2856 1988H2900 M2856 2000H2900 M2856 2012H2900 M2950 1988H2997 M2950 2000H2997 M2950 2012H2997"/></g>
<line x1="2786" y1="2027" x2="2997" y2="2027" stroke="#222"/>
<circle cx="2903" cy="2042" r="10" fill="none" stroke="#a0282a" stroke-width="2.5"/>
<path d="M2896 2046 Q2903 2036 2910 2046" stroke="#a0282a" stroke-width="2" fill="none"/>
<text x="2903" y="2062" font-size="10" fill="#a0282a" text-anchor="middle">CIVIA</text>
<line x1="2786" y1="2075" x2="2997" y2="2075" stroke="#222"/>
<g font-size="6.5"><text x="2789" y="2086">Unit 4.11</text><text x="2789" y="2094">Cannock Chase Enterprise Centre</text><text x="2789" y="2102">Cannock, Staffordshire</text><text x="2789" y="2110">WS12 0QU</text>
<text x="2924" y="2089">T</text><text x="2933" y="2089">01543 753 200</text><text x="2924" y="2098">E</text><text x="2933" y="2098">hello@civia.uk</text><text x="2924" y="2107">W</text><text x="2933" y="2107">www.Civia.uk</text></g>
</svg>
</body></html>
